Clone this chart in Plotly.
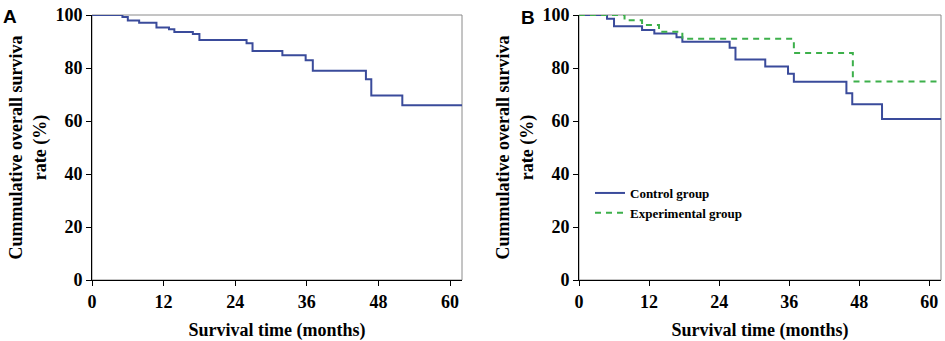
import plotly.graph_objects as go

# ---- Data ----
# Panel A: all patients
a_time = [0, 5.1, 6.0, 7.9, 10.8, 12.9, 13.8, 16.9, 18.0, 25.9, 26.9, 31.9, 35.8, 37.0, 45.9, 46.8, 52.0, 62]
a_surv = [100, 99.2, 97.9, 97.1, 95.3, 94.6, 93.6, 92.8, 90.6, 89.3, 86.4, 84.8, 82.9, 79.0, 75.8, 69.6, 65.9, 65.9]

# Panel B: control group
c_time = [0, 4.8, 6.0, 10.8, 12.9, 16.7, 17.7, 25.8, 26.8, 31.9, 35.8, 36.8, 45.8, 46.8, 51.9, 62]
c_surv = [100, 98.6, 95.8, 94.3, 93.0, 91.6, 89.9, 87.6, 83.2, 80.6, 77.8, 74.8, 70.5, 66.3, 60.8, 60.8]

# Panel B: experimental group
e_time = [0, 7.8, 10.8, 13.7, 17.7, 36.8, 46.9, 62]
e_surv = [100, 98.0, 96.2, 93.7, 91.0, 85.7, 74.9, 74.9]

x_ticks = [0, 12, 24, 36, 48, 60]
y_ticks = [0, 20, 40, 60, 80, 100]

BLUE = "#3A4B9B"
GREEN = "#3DB04B"
SERIF = "Liberation Serif, Times New Roman, serif"
SANS = "Liberation Sans, Arial, sans-serif"

fig = go.Figure()

fig.add_trace(go.Scatter(x=a_time, y=a_surv, mode="lines", line=dict(shape="hv", color=BLUE, width=2),
                         showlegend=False, xaxis="x", yaxis="y"))
fig.add_trace(go.Scatter(x=c_time, y=c_surv, mode="lines", line=dict(shape="hv", color=BLUE, width=2),
                         name="Control group", xaxis="x2", yaxis="y2"))
fig.add_trace(go.Scatter(x=e_time, y=e_surv, mode="lines",
                         line=dict(shape="hv", color=GREEN, width=2, dash="6px,5px"),
                         name="Experimental group", xaxis="x2", yaxis="y2"))

ydom = [(341 - 280) / 341, (341 - 15) / 341]
axis_common = dict(
    showgrid=False, zeroline=False, showline=True, linecolor="black", linewidth=1,
    ticks="outside", ticklen=5, tickcolor="black", tickwidth=1, automargin=False,
    tickfont=dict(family=SERIF, size=18, color="black", weight="bold"),
)
xtitle = dict(text="<b>Survival time (months)</b>", font=dict(family=SERIF, size=18, color="black"), standoff=12)
ytitle = dict(text="<b>Cummulative overall surviva<br>rate (%)</b>", font=dict(family=SERIF, size=18, color="black"), standoff=4)

fig.update_layout(
    width=945, height=341,
    margin=dict(l=0, r=0, t=0, b=0),
    paper_bgcolor="white", plot_bgcolor="white",
    xaxis=dict(domain=[92/945, 462/945], range=[0, 62], tickvals=x_ticks, anchor="y", title=xtitle, **axis_common),
    yaxis=dict(domain=ydom, range=[0, 100], tickvals=y_ticks, anchor="x", title=ytitle, **axis_common),
    xaxis2=dict(domain=[579/945, 941/945], range=[0, 62], tickvals=x_ticks, anchor="y2", title=xtitle, **axis_common),
    yaxis2=dict(domain=ydom, range=[0, 100], tickvals=y_ticks, anchor="x2", title=ytitle, **axis_common),
    legend=dict(x=590/945, y=1 - 178/341, xanchor="left", yanchor="top", bgcolor="rgba(0,0,0,0)",
                font=dict(family=SERIF, size=13, color="black", weight="bold"),
                itemwidth=30, tracegroupgap=0),
    showlegend=True,
)

# grey frame (top/right) around each plot area
for xr, yr in [("x domain", "y domain"), ("x2 domain", "y2 domain")]:
    fig.add_shape(type="rect", xref=xr, yref=yr, x0=0, x1=1, y0=0, y1=1,
                  line=dict(color="#8a8a8a", width=1), layer="below")

fig.add_annotation(text="<b>A</b>", x=1/945, y=1 - 4/341, xref="paper", yref="paper",
                   xanchor="left", yanchor="top", showarrow=False,
                   font=dict(family=SANS, size=19, color="black"))
fig.add_annotation(text="<b>B</b>", x=519/945, y=1 - 5/341, xref="paper", yref="paper",
                   xanchor="left", yanchor="top", showarrow=False,
                   font=dict(family=SANS, size=19, color="black"))

fig.write_html("out.html", config={"displayModeBar": False},
               post_script="document.body.style.margin='0';")
